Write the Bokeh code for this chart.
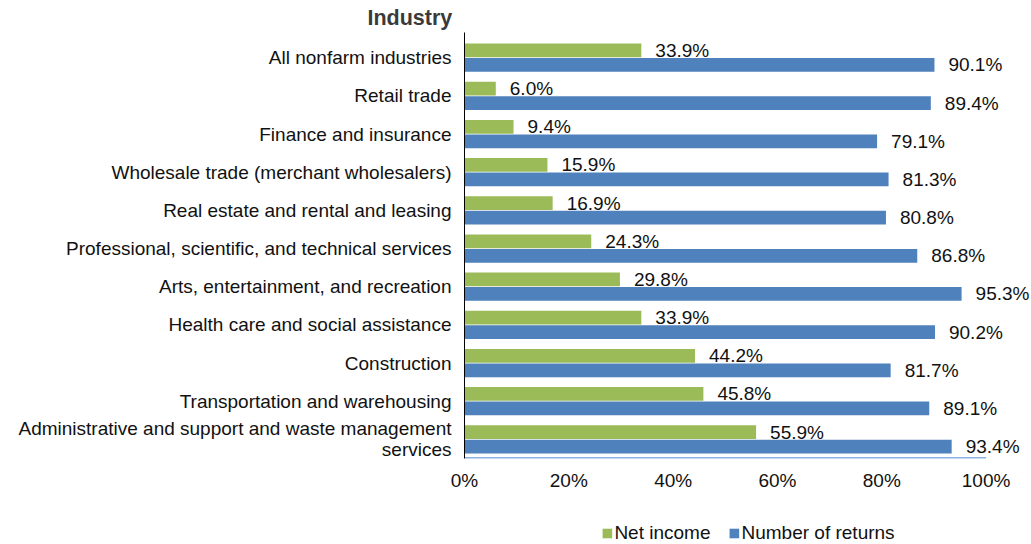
from bokeh.plotting import figure
from bokeh.layouts import column
from bokeh.models import (Range1d, FixedTicker, Legend, LegendItem, ColumnDataSource)
from bokeh.core.properties import value
from bokeh.embed import file_html
from bokeh.resources import INLINE

industries = [
    "All nonfarm industries",
    "Retail trade",
    "Finance and insurance",
    "Wholesale trade (merchant wholesalers)",
    "Real estate and rental and leasing",
    "Professional, scientific, and technical services",
    "Arts, entertainment, and recreation",
    "Health care and social assistance",
    "Construction",
    "Transportation and warehousing",
    "Administrative and support and waste management\nservices",
]
net_income = [33.9, 6.0, 9.4, 15.9, 16.9, 24.3, 29.8, 33.9, 44.2, 45.8, 55.9]
num_returns = [90.1, 89.4, 79.1, 81.3, 80.8, 86.8, 95.3, 90.2, 81.7, 89.1, 93.4]
x_ticks = [0, 20, 40, 60, 80, 100]
x_tick_labels = ["0%", "20%", "40%", "60%", "80%", "100%"]
series_names = ["Net income", "Number of returns"]
axis_title = "Industry"

GREEN = "#9BBB59"
BLUE = "#4F81BD"
AXIS_BLUE = "#8DB3E2"
FONT = "Liberation Sans"
FS = "19px"
TXT = "#111111"

n = len(industries)
idx = list(range(n))
y_green = [i - 0.19 for i in idx]
y_blue = [i + 0.19 for i in idx]

src_g = ColumnDataSource(dict(y=y_green, v=net_income,
                              t=[f"{v:.1f}%" for v in net_income]))
src_b = ColumnDataSource(dict(y=y_blue, v=num_returns,
                              t=[f"{v:.1f}%" for v in num_returns]))

W = 1031
H_MAIN, H_LEG = 510, 34
LEFT, RIGHT, TOP, BOTTOM = 464, 1031, 32, 458
px_per_unit = (985.6 - LEFT) / 100.0
x_end = (RIGHT - LEFT) / px_per_unit

p = figure(width=W, height=H_MAIN, output_backend="svg", toolbar_location=None,
           x_range=Range1d(0, x_end), y_range=Range1d(n - 0.5, -0.66),
           min_border_left=LEFT, min_border_right=W - RIGHT, min_border_top=TOP,
           min_border_bottom=H_MAIN - BOTTOM)
p.outline_line_color = None
p.xgrid.visible = False
p.ygrid.visible = False

rg = p.hbar(y="y", left=0, right="v", height=0.36, source=src_g,
            fill_color=GREEN, line_color=None)
rb = p.hbar(y="y", left=0, right="v", height=0.36, source=src_b,
            fill_color=BLUE, line_color=None)

for src in (src_g, src_b):
    p.text(x="v", y="y", text="t", source=src, x_offset=14,
           text_baseline="middle", text_align="left",
           text_font=value(FONT), text_font_size=value(FS), text_color=TXT)

# x axis line only from first to last tick
p.segment(x0=[x_ticks[0]], x1=[x_ticks[-1]], y0=[n - 0.5], y1=[n - 0.5],
          line_color=AXIS_BLUE, line_width=3)

# x axis
p.xaxis.ticker = FixedTicker(ticks=x_ticks)
p.xaxis.major_label_overrides = {t: l for t, l in zip(x_ticks, x_tick_labels)}
p.xaxis.major_tick_line_color = None
p.xaxis.minor_tick_line_color = None
p.xaxis.axis_line_color = None
p.xaxis.major_label_text_font = FONT
p.xaxis.major_label_text_font_size = FS
p.xaxis.major_label_text_color = TXT
p.xaxis.major_label_standoff = 5

# y axis
p.yaxis.ticker = FixedTicker(ticks=idx)
p.yaxis.major_label_overrides = {i: s for i, s in zip(idx, industries)}
p.yaxis.major_tick_line_color = None
p.yaxis.minor_tick_line_color = None
p.yaxis.axis_line_color = "#000000"
p.yaxis.axis_line_width = 1
p.yaxis.major_label_text_font = FONT
p.yaxis.major_label_text_font_size = FS
p.yaxis.major_label_text_color = TXT
p.yaxis.major_label_text_line_height = 1.0
p.yaxis.major_label_standoff = 7

p.title.text = axis_title
p.title.align = "left"
p.title.offset = -97
p.title.standoff = 6
p.title.text_font = FONT
p.title.text_font_size = "21.5px"
p.title.text_font_style = "bold"
p.title.text_color = "#3A3A3A"

# legend strip below the chart; its bars are the same data, kept out of its view
p2 = figure(width=W, height=H_LEG, output_backend="svg", toolbar_location=None,
            x_range=Range1d(-2, -1), y_range=Range1d(n - 0.5, -0.66),
            min_border_left=LEFT, min_border_right=0, min_border_top=0,
            min_border_bottom=0)
p2.axis.visible = False
p2.grid.visible = False
p2.outline_line_color = None
lg = p2.hbar(y="y", left=0, right="v", height=0.36, source=src_g,
             fill_color=GREEN, line_color=None)
lb = p2.hbar(y="y", left=0, right="v", height=0.36, source=src_b,
             fill_color=BLUE, line_color=None)

legend = Legend(items=[LegendItem(label=series_names[0], renderers=[lg]),
                       LegendItem(label=series_names[1], renderers=[lb])],
                orientation="horizontal", location="bottom",
                glyph_width=12, glyph_height=12, label_standoff=2, spacing=17,
                label_text_font=FONT, label_text_font_size=FS,
                label_text_color=TXT, border_line_color=None,
                background_fill_alpha=0, padding=0, margin=0)
p2.add_layout(legend)

open("out.html", "w").write(file_html(column(p, p2), INLINE))
